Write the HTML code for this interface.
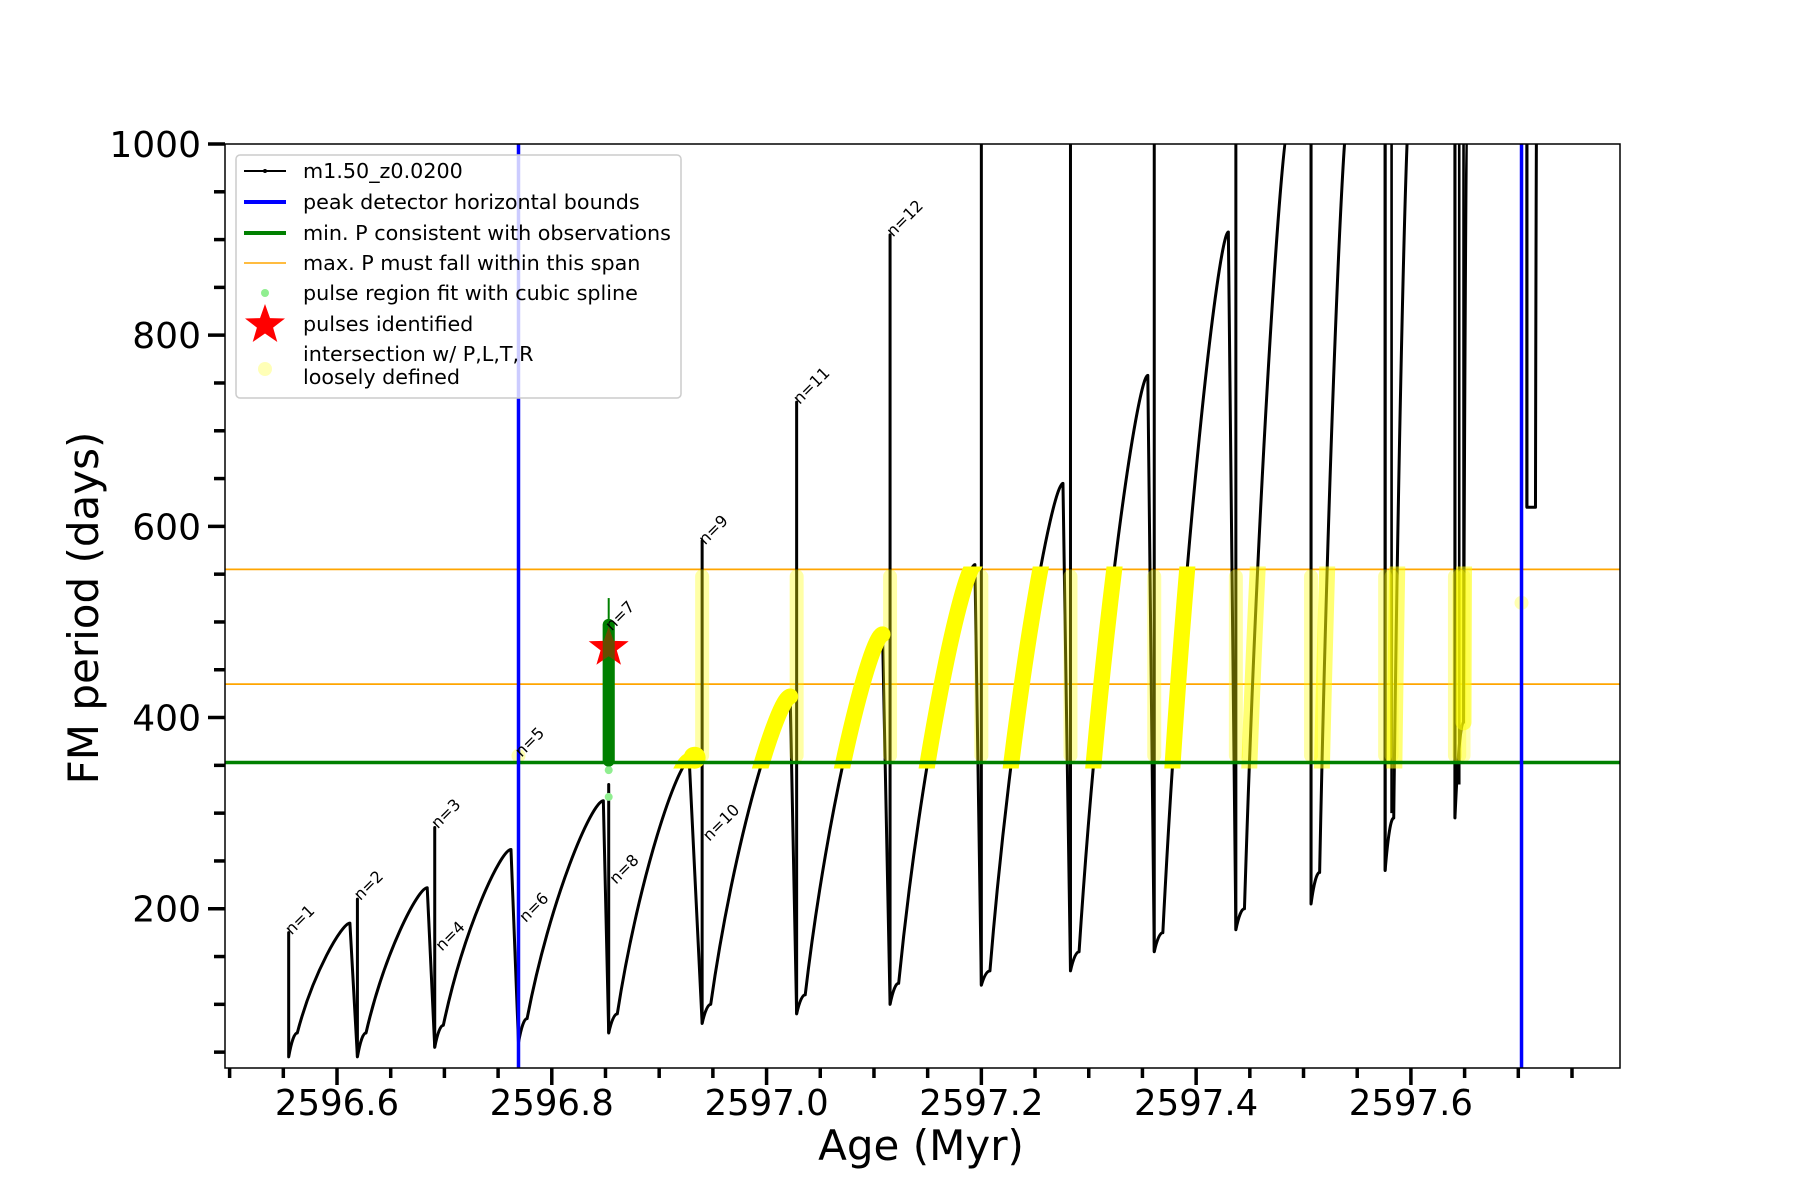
<!DOCTYPE html>
<html><head><meta charset="utf-8">
<style>
html,body{margin:0;padding:0;background:#fff;}
svg{display:block;font-family:"DejaVu Sans","Liberation Sans",sans-serif;}
</style></head>
<body>
<svg id="chart" width="1800" height="1200" viewBox="0 0 1800 1200">
<defs>
<clipPath id="plotclip"><rect x="225" y="144" width="1395" height="924"/></clipPath>
<clipPath id="bandclip"><rect id="bandrect" x="0" y="0" width="0" height="0"/></clipPath>
</defs>
<g id="plot" clip-path="url(#plotclip)"></g>
<rect x="225" y="144" width="1395" height="924" fill="none" stroke="#000" stroke-width="1.5"/>
<g id="axes"></g>
<text x="921" y="1160" font-size="42" text-anchor="middle">Age (Myr)</text>
<text transform="translate(98,608) rotate(-90)" font-size="42" text-anchor="middle">FM period (days)</text>
<g>
<rect x="236" y="155" width="445" height="243" rx="4" fill="#fff" fill-opacity="0.8" stroke="#ccc" stroke-width="1.5"/>
<g font-size="20.7" fill="#000">
<g><line x1="244" y1="171" x2="286" y2="171" stroke="#000" stroke-width="2"/><circle cx="265" cy="171" r="2" fill="#000"/><text x="303" y="178">m1.50_z0.0200</text></g>
<g><line x1="244" y1="202" x2="286" y2="202" stroke="#0000ff" stroke-width="4"/><text x="303" y="209">peak detector horizontal bounds</text></g>
<g><line x1="244" y1="233" x2="286" y2="233" stroke="#008000" stroke-width="4"/><text x="303" y="240">min. P consistent with observations</text></g>
<g><line x1="244" y1="263" x2="286" y2="263" stroke="orange" stroke-width="1.5"/><text x="303" y="270">max. P must fall within this span</text></g>
<g><circle cx="265" cy="293" r="4" fill="#90ee90"/><text x="303" y="300">pulse region fit with cubic spline</text></g>
<g><polygon id="legstar" fill="#ff0000"/><text x="303" y="331">pulses identified</text></g>
<g><circle cx="265" cy="369" r="7" fill="#ffff99" fill-opacity="0.7"/><text x="303" y="361">intersection w/ P,L,T,R</text><text x="303" y="384">loosely defined</text></g>
</g></g>
</svg>
<script>
// ---- data ----
const spikeAges   = [2596.555,2596.619,2596.691,2596.769,2596.853,2596.940,2597.028,2597.115,2597.200,2597.283,2597.361,2597.437,2597.507,2597.576,2597.641,2597.708];
const spikeTops   = [175,210,285,360,330,585,730,905,1050,1050,1050,1050,1050,1050,1050,1050];
const spikeBottoms= [45,45,55,60,70,80,90,100,120,135,155,178,205,240,295,620];
const troughVals  = [70,70,78,85,90,100,110,122,135,155,175,200,238,295,395,620];
const peakAges    = [2596.612,2596.684,2596.762,2596.848,2596.928,2597.022,2597.108,2597.194,2597.276,2597.355,2597.430,2597.487,2597.541,2597.598,2597.652,2597.717];
const peakVals    = [185,222,262,313,355,422,487,560,645,758,908,1030,1030,1030,1030,1030];
const extraSpikes = [2597.582,2597.645,2597.649];
const extraTops   = [1050,1050,1050];
const extraBottoms= [300,330,395];
const labelNums   = [1,2,3,4,5,6,7,8,9,10,11,12];
const labelAges   = [2596.555,2596.619,2596.691,2596.695,2596.769,2596.773,2596.853,2596.857,2596.940,2596.944,2597.028,2597.115];
const labelVals   = [172,208,283,155,358,185,490,225,580,270,727,902];
const boundAges   = [2596.769,2597.703];
const minP = 353;
const maxPSpan = [435,555];
const pulseAge = 2596.853, pulseLow = 355, pulseHigh = 497, pulseWhisker = 525, starVal = 473;
const splineVals = [345,317];
const xTicks = [2596.6,2596.8,2597.0,2597.2,2597.4,2597.6];
const yTicks = [200,400,600,800,1000];

// ---- axes ----
const X0=225,X1=1620,Y0=144,Y1=1068;
const xmin=2596.4957,xmax=2597.7947,ymin=33.4,ymax=1000;
const sx=a=>X0+(a-xmin)/(xmax-xmin)*(X1-X0);
const sy=v=>Y1-(v-ymin)/(ymax-ymin)*(Y1-Y0);
const NS='http://www.w3.org/2000/svg';
function mk(tag,attrs,parent){const e=document.createElementNS(NS,tag);for(const k in attrs)e.setAttribute(k,attrs[k]);parent.appendChild(e);return e;}
const plot=document.getElementById('plot'), axes=document.getElementById('axes');

for(let a=2596.50;a<=2597.78;a+=0.05){
  const major=xTicks.some(t=>Math.abs(t-a)<1e-6);
  const t=mk('line',{x1:sx(a),x2:sx(a),y1:Y1,y2:Y1+(major?17:10),stroke:'#000','stroke-width':3.5},axes);
  
  
}
xTicks.forEach(v=>{const t=mk('text',{x:sx(v),y:1115,'font-size':35.5,'text-anchor':'middle'},axes);t.textContent=v.toFixed(1);
  
  });
for(let v=50;v<=1000;v+=50){
  const major=yTicks.includes(v);
  const t=mk('line',{x1:X0-(major?17:11),x2:X0,y1:sy(v),y2:sy(v),stroke:'#000','stroke-width':3.5},axes);
  
  
}
yTicks.forEach(v=>{const t=mk('text',{x:201,y:sy(v)+13,'font-size':36,'text-anchor':'end'},axes);t.textContent=v;
  
  });

maxPSpan.forEach(v=>{const l=mk('line',{x1:X0,x2:X1,y1:sy(v),y2:sy(v),stroke:'orange','stroke-width':1.8},plot);
  
  });

function risePath(i){
  const ta=spikeAges[i]+0.008, tv=troughVals[i], pa=peakAges[i], pv=peakVals[i];
  const d=pa-ta;
  return `M${sx(ta)},${sy(tv)} C${sx(ta+d*0.3)},${sy(tv+(pv-tv)*0.55)} ${sx(pa-d*0.15)},${sy(pv)} ${sx(pa)},${sy(pv)}`;
}
function cyclePath(i){
  const s=spikeAges[i];
  const ta=s+0.008, tv=troughVals[i];
  let d=`M${sx(s)},${sy(spikeBottoms[i])} L${sx(s)},${sy(spikeTops[i])} L${sx(s)},${sy(spikeBottoms[i])} Q${sx(s+0.004)},${sy(tv)} ${sx(ta)},${sy(tv)}`;
  d+=' '+risePath(i).replace(/^M[^C]*/,'');
  if(i+1<spikeAges.length){
    if(peakVals[i]>1000) d+=` L${sx(spikeAges[i+1])},${sy(1030)}`;
    d+=` L${sx(spikeAges[i+1])},${sy(spikeBottoms[i+1])}`;
  }
  return d;
}
const curveG=mk('g',{},plot);


spikeAges.forEach((s,i)=>{
  const p=mk('path',{d:cyclePath(i),fill:'none',stroke:'#000','stroke-width':3,'stroke-linejoin':'round'},curveG);
  
  
});
extraSpikes.forEach((a,i)=>{
  const p=mk('path',{d:`M${sx(a)},${sy(extraBottoms[i])} L${sx(a)},${sy(extraTops[i])}`,stroke:'#000','stroke-width':2.6},curveG);
  
  
});

const br=document.getElementById('bandrect');
br.setAttribute('x',sx(2596.905));br.setAttribute('width',sx(2597.695)-sx(2596.905));
br.setAttribute('y',sy(maxPSpan[1]+3));br.setAttribute('height',sy(minP)-sy(maxPSpan[1]+3)+6);
const yg=mk('g',{'clip-path':'url(#bandclip)'},plot);


spikeAges.forEach((s,i)=>{
  if(peakAges[i]>2596.9 && peakVals[i]>minP){
    const p=mk('path',{d:risePath(i),fill:'none',stroke:peakVals[i]>1000?'rgba(255,255,0,0.55)':'#ffff00','stroke-width':16,'stroke-linecap':'round'},yg);
    
    
  }
  if(s>2596.9 && spikeTops[i]>maxPSpan[1]){
    const r=mk('rect',{x:sx(s)-7,y:sy(maxPSpan[1]),width:14,height:sy(minP)-sy(maxPSpan[1]),rx:7,fill:'rgba(255,255,0,0.35)'},yg);
    
    
  }
});
extraSpikes.forEach((a)=>{
  const r=mk('rect',{x:sx(a)-7,y:sy(maxPSpan[1]),width:14,height:sy(minP)-sy(maxPSpan[1]),rx:7,fill:'rgba(255,255,0,0.3)'},yg);
  
  
});
[[2596.769,360],[2597.703,520]].forEach(p=>{
  const c=mk('circle',{cx:sx(p[0]),cy:sy(p[1]),r:7,fill:'rgba(255,255,100,0.5)'},plot);
  
  
});
const blob=mk('circle',{cx:sx(2596.933),cy:sy(358),r:11,fill:'#ffff00'},plot);



const gl=mk('line',{x1:X0,x2:X1,y1:sy(minP),y2:sy(minP),stroke:'#008000','stroke-width':3.5},plot);



boundAges.forEach(a=>{const l=mk('line',{x1:sx(a),x2:sx(a),y1:Y0,y2:Y1,stroke:'#0000ff','stroke-width':3.5},plot);
  
  });

const pw=mk('line',{x1:sx(pulseAge),x2:sx(pulseAge),y1:sy(pulseHigh),y2:sy(pulseWhisker),stroke:'#008000','stroke-width':2},plot);


const pb=mk('line',{x1:sx(pulseAge),x2:sx(pulseAge),y1:sy(pulseLow),y2:sy(pulseHigh),stroke:'#008000','stroke-width':12,'stroke-linecap':'round'},plot);


splineVals.forEach(v=>{const c=mk('circle',{cx:sx(pulseAge),cy:sy(v),r:4,fill:'#90ee90'},plot);
  
  });
function starPts(cx,cy,R,r){let s=[];for(let k=0;k<10;k++){const ang=-Math.PI/2+k*Math.PI/5;const rr=k%2?r:R;s.push((cx+rr*Math.cos(ang)).toFixed(1)+','+(cy+rr*Math.sin(ang)).toFixed(1));}return s.join(' ');}
const st=mk('polygon',{points:starPts(sx(pulseAge),sy(starVal),21,8.5),fill:'#ff0000'},plot);


document.getElementById('legstar').setAttribute('points',starPts(265,325,21,8.5));
const pb2=mk('line',{x1:sx(pulseAge),x2:sx(pulseAge),y1:sy(pulseLow),y2:sy(pulseHigh),stroke:'rgba(0,128,0,0.6)','stroke-width':12,'stroke-linecap':'round'},plot);



labelNums.forEach((n,i)=>{
  const x=sx(labelAges[i])+3,y=sy(labelVals[i]);
  const t=mk('text',{x:x,y:y,'font-size':16,transform:`rotate(-45 ${x} ${y})`},plot);
  t.textContent='n='+n;
  
  
});
</script>
</body></html>
